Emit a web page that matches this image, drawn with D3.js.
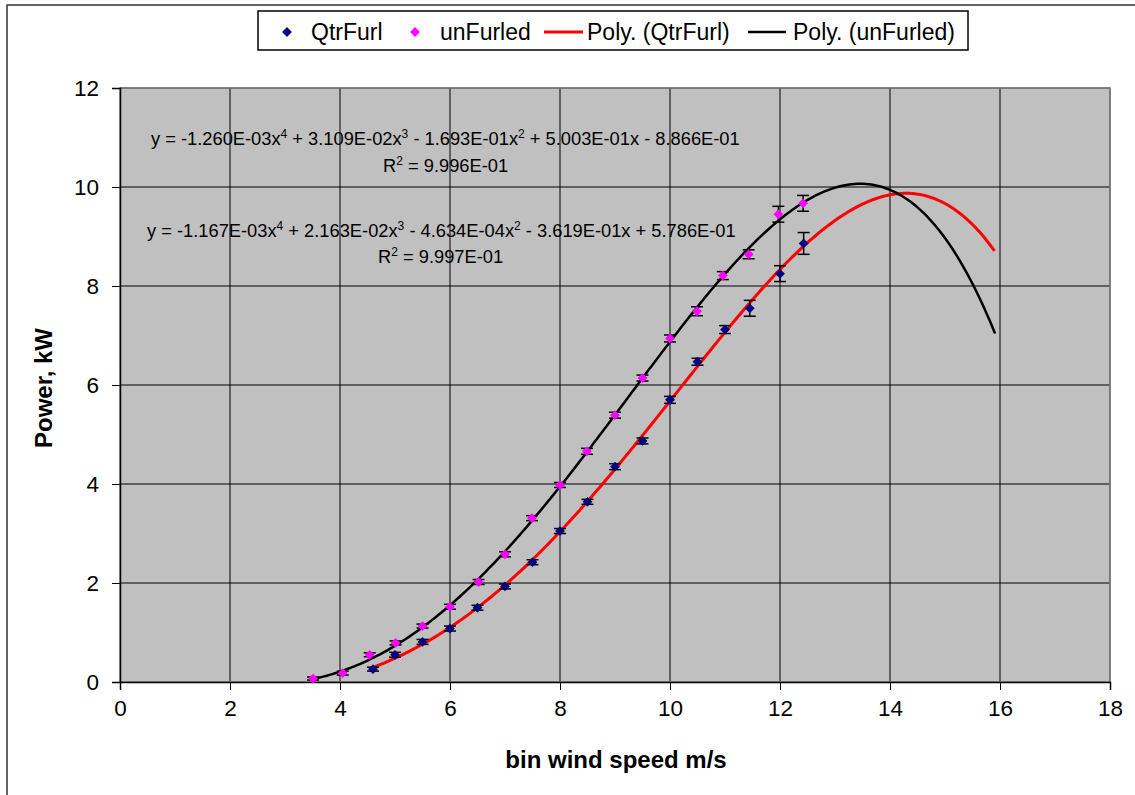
<!DOCTYPE html>
<html>
<head>
<meta charset="utf-8">
<script src="https://cdn.jsdelivr.net/npm/d3@7"></script>
<style>
  html, body { margin: 0; padding: 0; background: #fff; }
  svg { display: block; font-family: "Liberation Sans", Arial, sans-serif; }
</style>
</head>
<body>
<svg id="chart" width="1135" height="795"></svg>
<script>
// Measured power by wind-speed bin, with standard-error bars
const qtrFurlSpeed = [4.6, 5.0, 5.5, 6.0, 6.5, 7.0, 7.5, 8.0, 8.5, 9.0, 9.5, 10.0, 10.5, 11.0, 11.45, 12.0, 12.43];
const qtrFurlPower = [0.26, 0.55, 0.81, 1.08, 1.50, 1.93, 2.42, 3.05, 3.64, 4.35, 4.87, 5.70, 6.47, 7.12, 7.55, 8.25, 8.86];
const qtrFurlErr   = [0.04, 0.05, 0.05, 0.05, 0.05, 0.05, 0.05, 0.05, 0.05, 0.06, 0.06, 0.07, 0.07, 0.08, 0.16, 0.16, 0.22];

const unFurledSpeed = [3.51, 4.05, 4.54, 5.01, 5.5, 6.0, 6.52, 7.0, 7.49, 8.0, 8.49, 9.0, 9.5, 10.0, 10.49, 10.96, 11.43, 11.97, 12.42];
const unFurledPower = [0.07, 0.18, 0.55, 0.79, 1.13, 1.52, 2.02, 2.58, 3.31, 3.98, 4.66, 5.39, 6.14, 6.94, 7.49, 8.21, 8.64, 9.45, 9.67];
const unFurledErr   = [0.03, 0.04, 0.04, 0.04, 0.04, 0.05, 0.05, 0.05, 0.05, 0.05, 0.06, 0.06, 0.06, 0.07, 0.09, 0.08, 0.09, 0.16, 0.16];

// 4th-order polynomial trendlines, coefficients from x^4 down to the constant
const qtrFurlCoef  = [-1.260e-03, 3.109e-02, -1.693e-01, 5.003e-01, -8.866e-01];
const unFurledCoef = [-1.167e-03, 2.163e-02, -4.634e-04, -3.619e-01, 5.786e-01];
const qtrFurlR2 = "9.996E-01";
const unFurledR2 = "9.997E-01";
const trendEnd = 15.92;

// Axis ticks
const xTicks = [0, 2, 4, 6, 8, 10, 12, 14, 16, 18];
const yTicks = [0, 2, 4, 6, 8, 10, 12];

// Legend entries
const legendLabels = ["QtrFurl", "unFurled", "Poly. (QtrFurl)", "Poly. (unFurled)"];

const svg = d3.select("#chart");
const plotL = 120, plotR = 1110, plotT = 88, plotB = 682;

const x = d3.scaleLinear().domain([0, 18]).range([plotL, plotR]);
const y = d3.scaleLinear().domain([0, 12]).range([plotB, plotT]);

// Outer chart frame
svg.append("path")
  .attr("d", `M7,800 L7,5 L1140,5`)
  .attr("fill", "none").attr("stroke", "#333").attr("stroke-width", 1.5);

// Plot area
svg.append("rect")
  .attr("x", plotL).attr("y", plotT)
  .attr("width", plotR - plotL).attr("height", plotB - plotT)
  .attr("fill", "#c0c0c0");

// Gridlines
svg.append("g").selectAll("line").data(yTicks.slice(1)).join("line")
  .attr("x1", plotL).attr("x2", plotR)
  .attr("y1", d => y(d)).attr("y2", d => y(d))
  .attr("stroke", "#000").attr("stroke-width", 1);
svg.append("g").selectAll("line").data(xTicks.slice(1)).join("line")
  .attr("x1", d => x(d)).attr("x2", d => x(d))
  .attr("y1", plotT).attr("y2", plotB)
  .attr("stroke", "#000").attr("stroke-width", 1);

// Plot area border
svg.append("rect")
  .attr("x", plotL).attr("y", plotT)
  .attr("width", plotR - plotL).attr("height", plotB - plotT)
  .attr("fill", "none").attr("stroke", "#808080").attr("stroke-width", 1.5);

// Axes
const xAxis = d3.axisBottom(x).tickValues(xTicks).tickSize(8).tickPadding(10).tickFormat(d3.format("d"));
const yAxis = d3.axisLeft(y).tickValues(yTicks).tickSize(8).tickPadding(13).tickFormat(d3.format("d"));

const gx = svg.append("g").attr("transform", `translate(0,${plotB})`).call(xAxis);
const gy = svg.append("g").attr("transform", `translate(${plotL},0)`).call(yAxis);
[gx, gy].forEach(g => {
  g.select(".domain").attr("stroke", "#000").attr("stroke-width", 1.5);
  g.selectAll(".tick line").attr("stroke", "#000").attr("stroke-width", 1);
  g.selectAll(".tick text").attr("fill", "#000")
    .style("font-size", "22.5px").style("font-family", "'Liberation Sans', Arial, sans-serif");
});

// Axis titles
svg.append("text")
  .attr("x", 616).attr("y", 768)
  .attr("text-anchor", "middle")
  .style("font-size", "24px").style("font-weight", "bold")
  .text("bin wind speed m/s");
svg.append("text")
  .attr("transform", "translate(52,388) rotate(-90)")
  .attr("text-anchor", "middle")
  .style("font-size", "24px").style("font-weight", "bold")
  .text("Power, kW");

// Trendlines
const poly = c => v => c.reduce((acc, k) => acc * v + k, 0);
function trend(coef, start) {
  const f = poly(coef);
  return d3.range(start, trendEnd + 1e-9, 0.05).map(v => [v, f(v)]);
}
const line = d3.line().x(d => x(d[0])).y(d => y(d[1]));

svg.append("path")
  .datum(trend(qtrFurlCoef, d3.min(qtrFurlSpeed)))
  .attr("d", line).attr("fill", "none")
  .attr("stroke", "#ff0000").attr("stroke-width", 3);
svg.append("path")
  .datum(trend(unFurledCoef, d3.min(unFurledSpeed)))
  .attr("d", line).attr("fill", "none")
  .attr("stroke", "#000").attr("stroke-width", 2.5);

// Markers with error bars
const diamond = d3.symbol().type(d3.symbolSquare).size(48);
function drawSeries(xs, ys, es, color) {
  const data = xs.map((v, i) => ({ x: v, y: ys[i], e: es[i] }));
  const g = svg.append("g");
  const eb = g.selectAll("g.err").data(data).join("g").attr("class", "err");
  eb.append("line")
    .attr("x1", d => x(d.x)).attr("x2", d => x(d.x))
    .attr("y1", d => y(d.y - d.e)).attr("y2", d => y(d.y + d.e));
  eb.append("line")
    .attr("x1", d => x(d.x) - 6).attr("x2", d => x(d.x) + 6)
    .attr("y1", d => y(d.y + d.e)).attr("y2", d => y(d.y + d.e));
  eb.append("line")
    .attr("x1", d => x(d.x) - 6).attr("x2", d => x(d.x) + 6)
    .attr("y1", d => y(d.y - d.e)).attr("y2", d => y(d.y - d.e));
  eb.selectAll("line").attr("stroke", "#000").attr("stroke-width", 1.5);
  g.selectAll("path").data(data).join("path")
    .attr("d", diamond)
    .attr("transform", d => `translate(${x(d.x)},${y(d.y)}) rotate(45)`)
    .attr("fill", color);
}
drawSeries(qtrFurlSpeed, qtrFurlPower, qtrFurlErr, "#000080");
drawSeries(unFurledSpeed, unFurledPower, unFurledErr, "#ff00ff");

// Trendline equations: plain strings are body text, one-element arrays are superscripts
function equation(xPos, yPos, parts) {
  const t = svg.append("text").attr("x", xPos).attr("y", yPos)
    .style("font-size", "18.3px").attr("fill", "#000");
  let raised = false;
  parts.forEach(p => {
    if (Array.isArray(p)) {
      t.append("tspan").attr("dy", -7).style("font-size", "12px").text(p[0]);
      raised = true;
    } else {
      const s = t.append("tspan").text(p);
      if (raised) { s.attr("dy", 7); raised = false; }
    }
  });
}
const fmt = v => {
  const s = Math.abs(v).toExponential(3).toUpperCase();
  const [m, e] = s.split("E");
  const ex = +e;
  return m + "E" + (ex < 0 ? "-" : "+") + String(Math.abs(ex)).padStart(2, "0");
};
function eqParts(c) {
  const sign = v => (v < 0 ? " - " : " + ");
  return [
    "y = " + (c[0] < 0 ? "-" : "") + fmt(c[0]) + "x", ["4"],
    sign(c[1]) + fmt(c[1]) + "x", ["3"],
    sign(c[2]) + fmt(c[2]) + "x", ["2"],
    sign(c[3]) + fmt(c[3]) + "x" + sign(c[4]) + fmt(c[4])
  ];
}
equation(151, 145, eqParts(qtrFurlCoef));
equation(383, 172, ["R", ["2"], " = " + qtrFurlR2]);
equation(147, 237, eqParts(unFurledCoef));
equation(378, 263, ["R", ["2"], " = " + unFurledR2]);

// Legend
const lg = svg.append("g");
lg.append("rect").attr("x", 258).attr("y", 11).attr("width", 710).attr("height", 39)
  .attr("fill", "#fff").attr("stroke", "#000").attr("stroke-width", 1.5);
lg.append("path").attr("d", diamond)
  .attr("transform", "translate(287,32) rotate(45)").attr("fill", "#000080");
lg.append("path").attr("d", diamond)
  .attr("transform", "translate(415,32) rotate(45)").attr("fill", "#ff00ff");
lg.append("line").attr("x1", 544).attr("x2", 583).attr("y1", 32).attr("y2", 32)
  .attr("stroke", "#ff0000").attr("stroke-width", 3);
lg.append("line").attr("x1", 748).attr("x2", 786).attr("y1", 32).attr("y2", 32)
  .attr("stroke", "#000").attr("stroke-width", 2.5);
const legendX = [311, 440, 587, 793];
lg.selectAll("text").data(legendLabels).join("text")
  .attr("x", (d, i) => legendX[i]).attr("y", 40)
  .style("font-size", "23px").text(d => d);
</script>
</body>
</html>
